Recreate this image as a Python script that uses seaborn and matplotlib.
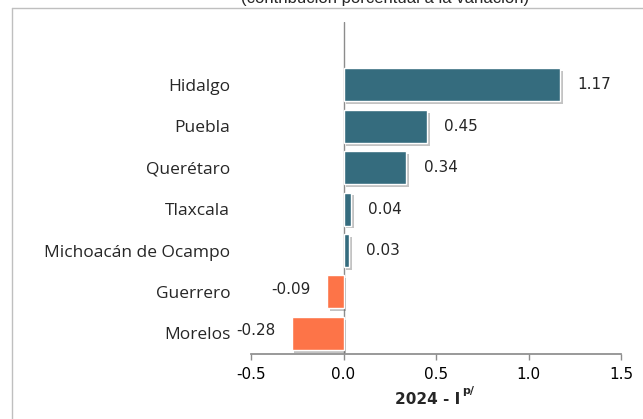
import pandas as pd
import matplotlib.pyplot as plt
import matplotlib.patheffects as pe
from matplotlib.lines import Line2D
import seaborn as sns

# data
states = ['Hidalgo', 'Puebla', 'Querétaro', 'Tlaxcala',
          'Michoacán de Ocampo', 'Guerrero', 'Morelos']
values = [1.17, 0.45, 0.34, 0.04, 0.03, -0.09, -0.28]
xticks = [-0.5, 0.0, 0.5, 1.0, 1.5]

TEAL = '#356C7E'
ORANGE = '#FD7448'
GRID = '#8C8C8C'

df = pd.DataFrame({'estado': states, 'valor': values})
df['signo'] = ['pos' if v >= 0 else 'neg' for v in values]

sns.set_theme(style='white')
plt.rcParams['font.family'] = ['DejaVu Sans']

fig = plt.figure(figsize=(6.43, 4.19), dpi=100)
ax = fig.add_axes([251 / 643, 1 - 354 / 419, 370 / 643, (354 - 22) / 419])

sns.barplot(data=df, y='estado', x='valor', hue='signo', orient='h',
            palette={'pos': TEAL, 'neg': ORANGE}, dodge=False,
            width=0.8, legend=False, ax=ax, saturation=1)

for bar in ax.patches:
    bar.set_path_effects([pe.SimplePatchShadow(offset=(2, -2), shadow_rgbFace='#555555', alpha=0.35),
                          pe.Normal()])

ax.set_xlim(-0.5, 1.5)
ax.set_ylim(6.5, -1.52)
ax.set_xticks(xticks)
ax.set_xticklabels([f'{t:.1f}' for t in xticks], fontsize=11, color='black')
ax.tick_params(axis='x', direction='out', length=4, width=1, color=GRID, pad=5, bottom=True)
ax.tick_params(axis='y', length=0, pad=15)
for lbl in ax.get_yticklabels():
    lbl.set_fontfamily('Open Sans')
    lbl.set_fontsize(12.5)
ax.set_ylabel('')
ax.set_xlabel('2024 - I', fontsize=11, fontweight='bold', labelpad=7.5)
ax.xaxis.label.set_position((0.477, 0))

for s in ['top', 'right', 'left']:
    ax.spines[s].set_visible(False)
ax.spines['bottom'].set_color(GRID)
ax.axvline(0, color=GRID, lw=1, zorder=0)

# value labels
for i, v in enumerate(values):
    if v >= 0:
        ax.annotate(f'{v:.2f}', (v, i), xytext=(12.5, 0), textcoords='offset points',
                    ha='left', va='center', fontsize=11)
    else:
        ax.annotate(f'{v:.2f}', (v, i), xytext=(-12, 2), textcoords='offset points',
                    ha='right', va='center', fontsize=11)

# superscript of the axis title
fig.text(462 / 643, 1 - 386 / 419, 'p/', fontsize=8, fontweight='bold', ha='left', va='top')

# cut-off title and outer frame
fig.text(385 / 643, 1 - 3 / 419, '(contribución porcentual a la variación)',
         fontsize=12, family='Liberation Sans', ha='center', va='baseline')
fig.add_artist(Line2D([12 / 643, 12 / 643], [0, 1 - 8 / 419], color='#BFBFBF', lw=1,
                      transform=fig.transFigure))
fig.add_artist(Line2D([12 / 643, 1], [1 - 8 / 419, 1 - 8 / 419], color='#BFBFBF', lw=1,
                      transform=fig.transFigure))

fig.savefig('out.png', dpi=100)
